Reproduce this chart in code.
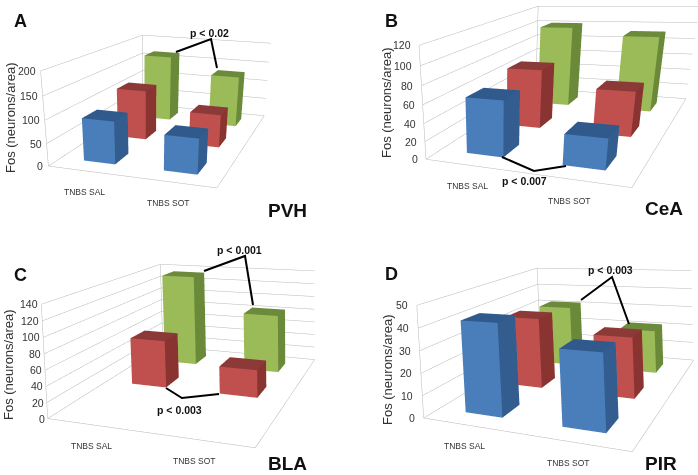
import numpy as np, plotly.graph_objects as go
W_,H_=698,475
CATS=["TNBS SAL","TNBS SOT"]
SAL_A=[95,118,167]; SOT_A=[78,78,129]
SAL_B=[62,70,102]; SOT_B=[33,52,93]
SAL_C=[None,65,135]; SOT_C=[None,37,84]
SAL_D=[41.5,34.5,32]; SOT_D=[32.5,28.5,22]
TICKS_A=[0,50,100,150,200]
TICKS_B=[0,20,40,60,80,100,120]
TICKS_C=[0,20,40,60,80,100,120,140]
TICKS_D=[0,10,20,30,40,50]
COL={0:("#4a7ebb","#335d8e","#315a8c"),1:("#c0504d","#8a3432","#8b3a38"),2:("#9bbb59","#6a8a3a","#6c8a3c")}
PANELS=[
 dict(name="scene",sal=SAL_A,sot=SOT_A,ticks=TICKS_A,tshift=-3,cx=174.5,p=[1.0957,-3.6135,0.8599,0.6106,-1.9626,0.0,0.0232,1.609,0.5376],up=[-0.1483,0.4222,0.8943],letter="A",region="PVH",lx=20,ly=21,tx=287,ty=210,ytx=10,yty=118),
 dict(name="scene2",sal=SAL_B,sot=SOT_B,ticks=TICKS_B,tshift=-6,cx=436.5,p=[0.8945,-3.1383,0.6859,0.2255,-1.9843,0.0006,-0.0559,1.5881,0.5465],up=[-0.1805,0.4227,0.8881],letter="B",region="CeA",lx=391,ly=21,tx=664,ty=209,ytx=386,yty=103),
 dict(name="scene3",sal=SAL_C,sot=SOT_C,ticks=TICKS_C,tshift=-1,cx=261.5,p=[1.1965,-2.6733,0.8463,-1.0112,4.3478,0.0001,-0.0104,1.1416,0.5345],up=[-0.0244,0.1121,0.9934],letter="C",region="BLA",lx=20,ly=275,tx=287,ty=463,ytx=8,yty=365),
 dict(name="scene4",sal=SAL_D,sot=SOT_D,ticks=TICKS_D,tshift=-7,cx=523.5,p=[1.1375,-2.7623,0.7438,-3.6034,6.604,0.0003,-0.0473,1.3023,0.535],up=[0.0103,0.0843,0.9964],letter="D",region="PIR",lx=391,ly=274,tx=661,ty=463,ytx=387,yty=370),
]
BRACKETS=[[(176,52),(211,39),(217,68)],[(502,157),(534,171),(566,166)],[(204,271),(245,256),(253,305)],[(166,388),(182,398),(219,394)],[(581,300),(612,277),(629,324)]]
PLABELS=[("p < 0.02",209,33),("p < 0.007",524,181),("p < 0.001",239,250),("p < 0.003",179,410),("p < 0.003",610,270)]
BW=0.4
fig=go.Figure()
ann=[]
def px(x,y): return dict(x=x/W_,y=1-y/H_,xref="paper",yref="paper",showarrow=False,xanchor="center",yanchor="middle")
layout={}
FONT="Liberation Sans"
FACES=[(0,1,5),(0,5,4),(1,2,6),(1,6,5),(4,5,6),(4,6,7),(0,4,7),(0,7,3),(0,3,2),(0,2,1),(3,7,6),(3,6,2)]
for P in PANELS:
    sc=P["name"]; zmax=P["ticks"][-1]
    for ci,vals in enumerate([P["sal"],P["sot"]]):
        for si,v in enumerate(vals):
            if v is None: continue
            xc,yc=ci+.5,si+.5; a=BW/2
            xs=[xc-a,xc+a,xc+a,xc-a]*2; ys=[yc-a,yc-a,yc+a,yc+a]*2; zs=[0]*4+[v]*4
            f,s,t=COL[si]
            fc=[f,f,s,s,t,t,f,f,f,f,f,f]
            fig.add_trace(go.Mesh3d(x=xs,y=ys,z=zs,i=[q[0] for q in FACES],j=[q[1] for q in FACES],k=[q[2] for q in FACES],facecolor=fc,flatshading=True,
                lighting=dict(ambient=1,diffuse=0,specular=0,roughness=1,fresnel=0),hoverinfo="skip",showscale=False,scene=sc))
    gx,gy,gz=[],[],[]
    for t in P["ticks"]:
        gx+=[0,0,2,None]; gy+=[0,3,3,None]; gz+=[t,t,t,None]
    gx+=[0,0,None,0,0,None,0,2,2]; gy+=[0,0,None,3,3,None,0,0,3]; gz+=[0,zmax,None,0,zmax,None,0,0,0]
    fig.add_trace(go.Scatter3d(x=gx,y=gy,z=gz,mode="lines",line=dict(color="#b8b8b8",width=1),hoverinfo="skip",showlegend=False,scene=sc))
    e=np.array(P["p"][:3]);c=np.array(P["p"][3:6]);c=e+(c-e)/np.linalg.norm(c-e)
    cx=P["cx"]
    dom=[0,2*cx/W_] if cx<349 else [(2*cx-W_)/W_,1]
    axis=lambda r: dict(visible=False,range=r,autorange=False,showspikes=False)
    sann=[]
    for t in P["ticks"]:
        sann.append(dict(x=0,y=0,z=t,text=str(t),showarrow=False,xanchor="right",xshift=P["tshift"],font=dict(size=10.5,color="#333",family=FONT)))
    for i,cat in enumerate(CATS):
        sann.append(dict(x=i+.5,y=0,z=0,text=cat,showarrow=False,xshift=-4,yshift=-21,font=dict(size=8.5,color="#333",family=FONT)))
    layout[sc]=dict(domain=dict(x=dom,y=[0,1]),xaxis=axis([0,2]),yaxis=axis([0,3]),zaxis=axis([0,zmax]),
        aspectmode="manual",aspectratio=dict(x=1,y=P["p"][7],z=P["p"][8]),annotations=sann,bgcolor="rgba(0,0,0,0)",
        camera=dict(eye=dict(zip("xyz",e.tolist())),center=dict(zip("xyz",c.tolist())),up=dict(zip("xyz",P["up"])),projection=dict(type="perspective")))
    ann.append(dict(text="<b>%s</b>"%P["letter"],font=dict(size=18,color="#111",family=FONT),**px(P["lx"],P["ly"])))
    ann.append(dict(text="<b>%s</b>"%P["region"],font=dict(size=19,color="#111",family=FONT),**px(P["tx"],P["ty"])))
    ann.append(dict(text="Fos (neurons/area)",textangle=-90,font=dict(size=13,color="#333",family=FONT),**px(P["ytx"],P["yty"])))
for s,x,y in PLABELS:
    ann.append(dict(text="<b>%s</b>"%s,font=dict(size=10.5,color="#111",family=FONT),**px(x,y)))
shapes=[dict(type="path",xref="paper",yref="paper",path="M "+" L ".join(f"{x/W_:.4f},{1-y/H_:.4f}" for x,y in b),line=dict(color="black",width=2)) for b in BRACKETS]
fig.update_layout(width=W_,height=H_,margin=dict(l=0,r=0,t=0,b=0),paper_bgcolor="white",showlegend=False,annotations=ann,shapes=shapes,**layout)
fig.write_html("out.html",config=dict(displayModeBar=False),post_script="document.body.style.margin='0';")
